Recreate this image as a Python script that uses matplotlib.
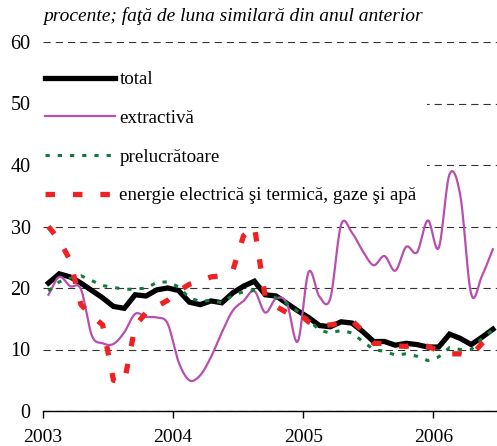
import numpy as np
import matplotlib
matplotlib.use("Agg")
import matplotlib.pyplot as plt
from matplotlib.lines import Line2D
from matplotlib.patches import Rectangle

# monthly data, Jan 2003 .. Jun 2006
start_year = 2003
total = [20.8, 22.3, 21.8, 20.8, 19.6, 18.4, 17.0, 16.7, 18.9, 18.7, 19.7, 20.0,
         19.6, 17.7, 17.3, 17.9, 17.6, 19.2, 20.3, 21.1, 18.9, 18.7, 17.5, 16.3,
         15.2, 13.9, 13.7, 14.5, 14.3, 12.9, 11.3, 11.3, 10.7, 11.0, 10.8, 10.4,
         10.4, 12.5, 11.8, 10.8, 12.0, 13.3]
extractiva = [18.9, 21.8, 20.3, 19.8, 12.3, 11.0, 10.9, 12.8, 15.8, 15.3, 15.2, 14.2,
              8.0, 5.0, 5.8, 8.8, 12.8, 16.3, 17.9, 19.5, 16.0, 18.3, 17.5, 11.3,
              22.6, 18.6, 18.3, 30.3, 29.0, 26.0, 23.7, 25.2, 22.8, 26.7, 25.8, 31.0,
              26.5, 38.5, 35.0, 19.0, 22.0, 26.3]
prelucratoare = [19.5, 21.0, 21.6, 22.0, 21.2, 20.4, 20.1, 19.8, 19.8, 20.0, 20.9, 21.0,
                 20.2, 18.4, 17.8, 18.0, 17.6, 18.8, 19.4, 19.6, 19.3, 18.4, 17.5, 16.2,
                 14.9, 13.1, 12.7, 13.1, 12.7, 11.3, 10.0, 9.7, 9.1, 9.3, 8.9, 8.2,
                 8.8, 10.3, 10.0, 10.0, 11.8, 13.2]
energie = [30.0, 27.8, 24.5, 17.3, 15.5, 14.0, 5.0, 4.7, 13.8, 16.0, 17.0, 18.0,
           19.5, 20.6, 21.2, 21.8, 22.0, 22.8, 28.5, 30.0, 18.5, 17.0, 16.0, 16.0,
           14.5, 13.8, 14.0, 14.3, 14.7, 13.0, 11.0, 11.0, 10.6, 10.5, 10.9, 10.5,
           9.8, 9.3, 9.3, 9.0, 11.0, 12.5]
series_labels = ["total", "extractivă", "prelucrătoare",
                 "energie electrică şi termică, gaze şi apă"]
title_text = "procente; faţă de luna similară din anul anterior"
year_ticks = [2003, 2004, 2005, 2006]
y_ticks = [0, 10, 20, 30, 40, 50, 60]


def catmull_rom(x, y, n=12):
    x = np.asarray(x, float)
    y = np.asarray(y, float)
    px = np.concatenate([[2 * x[0] - x[1]], x, [2 * x[-1] - x[-2]]])
    py = np.concatenate([[2 * y[0] - y[1]], y, [2 * y[-1] - y[-2]]])
    xs, ys = [], []
    t = np.linspace(0, 1, n, endpoint=False)
    for i in range(1, len(px) - 2):
        p0, p1, p2, p3 = py[i - 1], py[i], py[i + 1], py[i + 2]
        q0, q1, q2, q3 = px[i - 1], px[i], px[i + 1], px[i + 2]
        t2, t3 = t * t, t * t * t
        ys.append(0.5 * (2 * p1 + (-p0 + p2) * t + (2 * p0 - 5 * p1 + 4 * p2 - p3) * t2
                         + (-p0 + 3 * p1 - 3 * p2 + p3) * t3))
        xs.append(0.5 * (2 * q1 + (-q0 + q2) * t + (2 * q0 - 5 * q1 + 4 * q2 - q3) * t2
                         + (-q0 + 3 * q1 - 3 * q2 + q3) * t3))
    xs.append([x[-1]])
    ys.append([y[-1]])
    return np.concatenate(xs), np.concatenate(ys)


n = len(total)
x = start_year + (np.arange(n) + 0.5) / 12.0

plt.rcParams['font.family'] = ['Liberation Serif', 'DejaVu Serif']

fig = plt.figure(figsize=(4.97, 4.46), dpi=100)
ax = fig.add_axes([43 / 497, 35 / 446, 454 / 497, 369 / 446])

c_total = 'black'
c_extr = '#b84fae'
c_prel = '#147a3c'
c_en = '#ee2222'

ax.plot(x, total, color=c_total, lw=3.8, solid_joinstyle='miter', zorder=3)
sx, sy = catmull_rom(x, extractiva)
ax.plot(sx, sy, color=c_extr, lw=1.6, zorder=4)
ax.plot(x, prelucratoare, color=c_prel, lw=2.2, linestyle=(0, (1.4, 2.6)), zorder=5)
ax.plot(x, energie, color=c_en, lw=3.8, linestyle=(0, (1.8, 3.4)), zorder=6)

ax.set_xlim(2003, 2006.49)
ax.set_ylim(0, 60)
ax.set_yticks(y_ticks)
ax.set_xticks(year_ticks)
ax.set_xticklabels([str(v) for v in year_ticks])
ax.tick_params(axis='y', length=0, pad=9, labelsize=14.5)
ax.tick_params(axis='x', length=5, width=1.0, direction='out', pad=8, labelsize=14)
for s in ['left', 'right', 'top']:
    ax.spines[s].set_visible(False)
ax.spines['bottom'].set_linewidth(1.0)
ax.yaxis.grid(True, color='#333333', lw=0.8, linestyle=(0, (6.5, 4.5)))
ax.set_axisbelow(True)

# white legend background covering grid lines
ax.add_patch(Rectangle((0, 0.56), 0.845, 0.39, transform=ax.transAxes,
                       facecolor='white', edgecolor='none', zorder=1.5))

handles = [Line2D([], [], color=c_total, lw=3.8),
           Line2D([], [], color=c_extr, lw=1.6),
           Line2D([], [], color=c_prel, lw=2.2, linestyle=(0, (1.4, 2.6))),
           Line2D([], [], color=c_en, lw=3.8, linestyle=(0, (1.8, 3.4)))]
leg = ax.legend(handles, series_labels, loc='upper left', bbox_to_anchor=(-0.012, 0.942),
                frameon=False, fontsize=13.7, handlelength=3.65, handletextpad=0.25,
                labelspacing=1.12, borderaxespad=0)
leg.set_zorder(7)

fig.text(43 / 497, 1 - 16 / 446, title_text, fontsize=14, style='italic',
         ha='left', va='center')

fig.savefig('out.png', dpi=100)
